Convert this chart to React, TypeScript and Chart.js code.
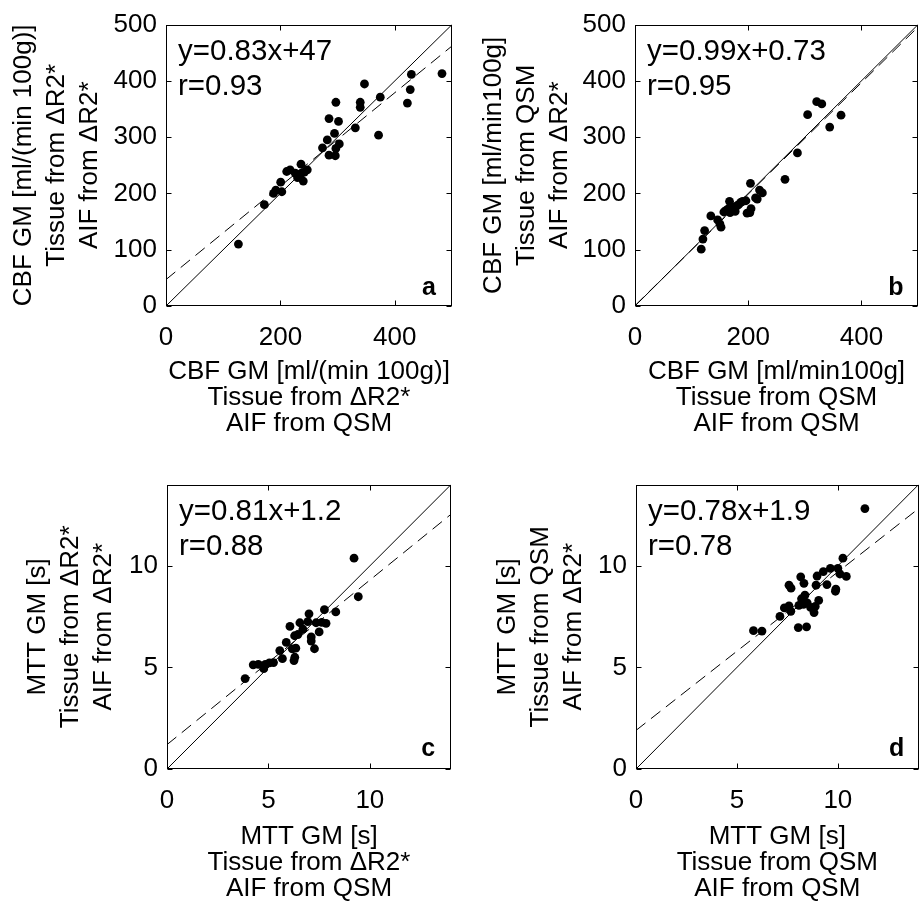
import React, { useEffect, useRef } from 'react';
import { Chart, registerables } from 'chart.js';

Chart.register(...registerables);

const FONT = '"Liberation Sans", Arial, Helvetica, sans-serif';

// ---- Panel a: CBF, tissue ΔR2* (AIF QSM) vs tissue ΔR2* (AIF ΔR2*)
const aX = [126.6, 172, 188, 192, 200.5, 202.5, 211, 217, 226, 230, 233, 236, 237, 240, 242, 247,
  273.6, 282, 285, 285, 294.6, 297, 296, 297, 301.6, 303, 331, 339.6, 339.6, 347, 371.6, 374.6, 422, 427, 429, 482.5];
const aY = [110, 180, 200, 206, 220, 203, 239, 242, 236, 228, 234, 252, 236, 222, 238, 242,
  281, 295, 333, 268, 306.6, 362, 267, 280, 328, 288, 316.5, 362, 353, 394.5, 303.6, 371, 360.5, 384.5, 411.5, 413];

// ---- Panel b: CBF, QSM/QSM vs QSM/ΔR2*
const bX = [117, 120, 123, 134, 146, 150, 152, 157, 161, 164, 167, 168, 171, 175, 177, 180, 183, 187, 190, 196,
  198, 203, 204, 205, 213, 216, 220, 225, 265, 287, 305, 321, 330, 344, 364];
const bY = [101, 119, 134, 160, 153, 146, 140, 167, 170, 172, 186, 166, 172, 176, 168, 178, 180, 184, 186, 187,
  165, 166, 218, 173, 192, 190, 206, 201, 225, 272, 340, 363, 359, 318, 339];

// ---- Panel c: MTT, ΔR2*/QSM vs ΔR2*/ΔR2*
const cX = [3.85, 4.25, 4.5, 4.77, 4.85, 5.05, 5.25, 5.56, 5.69, 5.88, 6.06, 6.18, 6.26, 6.3, 6.29, 6.35, 6.45, 6.55,
  6.7, 6.94, 7.0, 7.11, 7.11, 7.27, 7.35, 7.5, 7.63, 7.76, 7.84, 8.32, 9.22, 9.43];
const cY = [4.45, 5.13, 5.15, 4.94, 5.15, 5.22, 5.24, 5.83, 5.43, 6.23, 7.02, 5.91, 5.34, 5.5, 6.56, 5.95, 6.62, 7.2,
  6.88, 7.25, 7.64, 6.5, 6.3, 5.92, 7.2, 6.75, 7.22, 7.84, 7.17, 7.73, 10.38, 8.48];

// ---- Panel d: MTT, QSM/QSM vs QSM/ΔR2*
const dX = [5.82, 6.24, 7.13, 7.35, 7.58, 7.67, 7.58, 7.68, 8.04, 8.16, 8.32, 8.45, 8.07, 8.2, 8.37, 8.48, 8.3,
  8.65, 8.82, 8.88, 9.05, 8.92, 8.97, 9.28, 9.46, 9.63, 9.9, 9.88, 10.0, 10.1, 10.25, 10.42, 11.34];
const dY = [6.81, 6.79, 7.51, 7.93, 8.03, 7.76, 9.05, 8.9, 6.96, 9.46, 9.14, 7.0, 8.05, 8.38, 8.56, 8.18, 8.1,
  7.95, 7.7, 8.0, 8.3, 9.05, 9.5, 9.72, 9.08, 9.88, 8.85, 8.75, 9.88, 9.6, 10.38, 9.48, 12.82];

// Fit lines (slope, intercept)
const fitSlopes = [0.83, 0.99, 0.81, 0.78];
const fitIntercepts = [47, 0.73, 1.2, 1.9];

// Ticks
const cbfXTicks = [0, 200, 400];
const cbfYTicks = [0, 100, 200, 300, 400, 500];
const mttTicks = [0, 5, 10];
const cbfMax = 500;
const mttMax = 14;

type Panel = {
  xs: number[]; ys: number[];
  fit: number;
  canvas: { l: number; t: number; w: number; h: number };
  plot: { l: number; t: number; r: number; b: number };
  max: number; xTicks: number[]; yTicks: number[];
  xTitle: string[]; yTitle: string[];
  eq: string; r: string; letter: string;
  yTitlePad: number; xTitlePad: number; letterOff: number;
};

const panels: Panel[] = [
  {
    xs: aX, ys: aY, fit: 0,
    canvas: { l: 0, t: 0, w: 470, h: 460 }, plot: { l: 166, t: 22, r: 452, b: 306 },
    max: cbfMax, xTicks: cbfXTicks, yTicks: cbfYTicks,
    xTitle: ['CBF GM [ml/(min 100g)]', 'Tissue from \u0394R2*', 'AIF from QSM'],
    yTitle: ['CBF GM [ml/(min 100g)]', 'Tissue from \u0394R2*', 'AIF from \u0394R2*'],
    eq: 'y=0.83x+47', r: 'r=0.93', letter: 'a', yTitlePad: 7, xTitlePad: 23, letterOff: 11,
  },
  {
    xs: bX, ys: bY, fit: 1,
    canvas: { l: 470, t: 0, w: 453, h: 460 }, plot: { l: 635, t: 21, r: 918, b: 306 },
    max: cbfMax, xTicks: cbfXTicks, yTicks: cbfYTicks,
    xTitle: ['CBF GM [ml/min100g]', 'Tissue from QSM', 'AIF from QSM'],
    yTitle: ['CBF GM [ml/min100g]', 'Tissue from QSM', 'AIF from \u0394R2*'],
    eq: 'y=0.99x+0.73', r: 'r=0.95', letter: 'b', yTitlePad: 7, xTitlePad: 23, letterOff: 11,
  },
  {
    xs: cX, ys: cY, fit: 2,
    canvas: { l: 0, t: 460, w: 470, h: 452 }, plot: { l: 167, t: 483, r: 451, b: 769 },
    max: mttMax, xTicks: mttTicks, yTicks: mttTicks,
    xTitle: ['MTT GM [s]', 'Tissue from \u0394R2*', 'AIF from QSM'],
    yTitle: ['MTT GM [s]', 'Tissue from \u0394R2*', 'AIF from \u0394R2*'],
    eq: 'y=0.81x+1.2', r: 'r=0.88', letter: 'c', yTitlePad: 21.5, xTitlePad: 10, letterOff: 13,
  },
  {
    xs: dX, ys: dY, fit: 3,
    canvas: { l: 470, t: 460, w: 453, h: 452 }, plot: { l: 636, t: 483, r: 919, b: 769 },
    max: mttMax, xTicks: mttTicks, yTicks: mttTicks,
    xTitle: ['MTT GM [s]', 'Tissue from QSM', 'AIF from QSM'],
    yTitle: ['MTT GM [s]', 'Tissue from QSM', 'AIF from \u0394R2*'],
    eq: 'y=0.78x+1.9', r: 'r=0.78', letter: 'd', yTitlePad: 21.5, xTitlePad: 10, letterOff: 13,
  },
];

const decorPlugin = {
  id: 'decor',
  afterDatasetsDraw(chart: any, _args: any, opts: any) {
    const { ctx, chartArea, scales } = chart;
    const { left, right, top, bottom } = chartArea;
    const x = scales.x, y = scales.y;
    ctx.save();
    ctx.strokeStyle = '#000';
    ctx.lineWidth = 1;
    const L = Math.round(left) + 0.5, R = Math.round(right) - 0.5;
    const T = Math.round(top) + 0.5, B = Math.round(bottom) - 0.5;
    ctx.strokeRect(L, T, R - L, B - T);
    const tl = 5;
    ctx.beginPath();
    for (const v of opts.xTicks) {
      const px = Math.round(x.getPixelForValue(v)) + 0.5;
      ctx.moveTo(px, B); ctx.lineTo(px, B - tl);
      ctx.moveTo(px, T); ctx.lineTo(px, T + tl);
    }
    for (const v of opts.yTicks) {
      const py = Math.round(y.getPixelForValue(v)) + 0.5;
      ctx.moveTo(L, py); ctx.lineTo(L + tl, py);
      ctx.moveTo(R, py); ctx.lineTo(R - tl, py);
    }
    ctx.stroke();
    ctx.fillStyle = '#000';
    ctx.textAlign = 'left';
    ctx.textBaseline = 'alphabetic';
    ctx.font = `29.5px ${FONT}`;
    ctx.fillText(opts.eq, left + 12, top + 35);
    ctx.fillText(opts.r, left + 12, top + 70);
    ctx.font = `bold 25px ${FONT}`;
    ctx.fillText(opts.letter, left + 0.895 * (right - left), bottom - opts.letterOff);
    ctx.restore();
  },
};

function PanelChart({ p }: { p: Panel }) {
  const ref = useRef<HTMLCanvasElement | null>(null);
  useEffect(() => {
    if (!ref.current) return;
    const pts = p.xs.map((xv, i) => ({ x: xv, y: p.ys[i] }));
    const slope = fitSlopes[p.fit];
    const icpt = fitIntercepts[p.fit];
    const identity = [{ x: 0, y: 0 }, { x: p.max, y: p.max }];
    const fitLine = [{ x: 0, y: icpt }, { x: p.max, y: slope * p.max + icpt }];
    const yAxisW = p.plot.l - p.canvas.l;
    const xAxisH = p.canvas.t + p.canvas.h - p.plot.b;
    const chart = new Chart(ref.current, {
      type: 'scatter',
      data: {
        datasets: [
          {
            data: identity, showLine: true, borderColor: '#000', borderWidth: 1,
            pointRadius: 0, pointHoverRadius: 0,
          },
          {
            data: fitLine, showLine: true, borderColor: '#000', borderWidth: 1,
            borderDash: [12, 7], pointRadius: 0, pointHoverRadius: 0,
          },
          {
            data: pts, backgroundColor: '#000', borderColor: '#000', borderWidth: 0,
            pointRadius: 4.4, pointHoverRadius: 4.4,
          },
        ],
      } as any,
      options: {
        animation: false,
        responsive: false,
        events: [],
        layout: {
          padding: {
            left: 0,
            top: p.plot.t - p.canvas.t,
            right: p.canvas.l + p.canvas.w - p.plot.r,
            bottom: 0,
          },
        },
        plugins: {
          legend: { display: false },
          tooltip: { enabled: false },
          decor: { xTicks: p.xTicks, yTicks: p.yTicks, eq: p.eq, r: p.r, letter: p.letter, letterOff: p.letterOff },
        } as any,
        scales: {
          x: {
            type: 'linear', min: 0, max: p.max,
            grid: { display: false, drawTicks: false },
            border: { display: false },
            afterBuildTicks: (s: any) => { s.ticks = p.xTicks.map((v) => ({ value: v })); },
            afterFit: (s: any) => { s.height = xAxisH; },
            ticks: { color: '#000', padding: 16, maxRotation: 0, font: { family: FONT, size: 26 } },
            title: {
              display: true, text: p.xTitle, color: '#000',
              font: { family: FONT, size: 26, lineHeight: 1 },
              padding: { top: 0, bottom: p.xTitlePad },
            },
          },
          y: {
            type: 'linear', min: 0, max: p.max,
            grid: { display: false, drawTicks: false },
            border: { display: false },
            afterBuildTicks: (s: any) => { s.ticks = p.yTicks.map((v) => ({ value: v })); },
            afterFit: (s: any) => { s.width = yAxisW; },
            ticks: { color: '#000', padding: 9, font: { family: FONT, size: 26 } },
            title: {
              display: true, text: p.yTitle, color: '#000',
              font: { family: FONT, size: 26, lineHeight: 33 / 26 },
              padding: { top: p.yTitlePad, bottom: 0 },
            },
          },
        },
      } as any,
      plugins: [decorPlugin as any],
    });
    return () => chart.destroy();
  }, [p]);
  return (
    <canvas
      ref={ref}
      width={p.canvas.w}
      height={p.canvas.h}
      style={{ position: 'absolute', left: p.canvas.l, top: p.canvas.t, width: p.canvas.w, height: p.canvas.h }}
    />
  );
}

export default function App() {
  useEffect(() => {
    document.body.style.margin = '0';
    document.body.style.overflow = 'hidden';
  }, []);
  return (
    <div style={{ position: 'absolute', left: 0, top: 0, width: 923, height: 912, background: '#fff', overflow: 'hidden' }}>
      {panels.map((p, i) => (
        <PanelChart key={i} p={p} />
      ))}
    </div>
  );
}
